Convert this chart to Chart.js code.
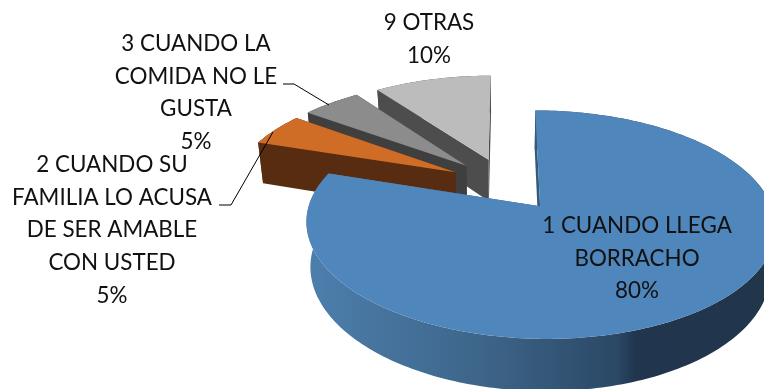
<!DOCTYPE html>
<html>
<head>
<meta charset="utf-8">
<title>Pie</title>
<script src="https://cdn.jsdelivr.net/npm/chart.js@4/dist/chart.umd.min.js"></script>
<style>
  html, body { margin: 0; padding: 0; background: #fff; }
  #wrap { width: 764px; height: 389px; overflow: hidden; }
</style>
</head>
<body>
<div id="wrap"><canvas id="pie" width="764" height="389"></canvas></div>
<script>
const categories = [
  ["1 CUANDO LLEGA", "BORRACHO"],
  ["2 CUANDO SU", "FAMILIA LO ACUSA", "DE SER AMABLE", "CON USTED"],
  ["3 CUANDO LA", "COMIDA NO LE", "GUSTA"],
  ["9 OTRAS"],
];
const values = [80, 5, 5, 10];
const topColors = ["#4f86bb", "#cf6d27", "#8c8c8c", "#bcbcbc"];
const wallColors = [null, "#572c10", "#3f3f3f", "#4d4d4d"];
const explode = [57, 57, 57, 57];

// label anchors: centre x, first line y
const labelPos = [[637, 226], [112, 165], [196, 44], [429, 23]];
const LINE_H = 32.6;
const leaders = [
  null,
  [[219, 205], [231, 205], [273, 132]],
  [[283, 84], [294, 84], [329, 105]],
  null,
];

// fake 3D: tilted plane with a bit of perspective, fitted to the picture
const R0 = 224, TILT = 0.465, PERSP = 0.0007, DEPTH = 43, SHRINK = 0.02;

function project(cx, cy, dx, dy, drop) {
  const p = 1 / (1 - PERSP * dy);
  const k = 1 - SHRINK * drop;
  return [cx + dx * p * k, cy + TILT * dy * p * k + DEPTH * drop * Math.pow(p, 1.2)];
}

function tracePoly(ctx, pts) {
  ctx.beginPath();
  pts.forEach((q, i) => (i ? ctx.lineTo(q[0], q[1]) : ctx.moveTo(q[0], q[1])));
  ctx.closePath();
}

function drawSlice(ctx, el, idx) {
  const { x, y, startAngle, endAngle } = el.getProps(["x", "y", "startAngle", "endAngle"]);
  const mid = (startAngle + endAngle) / 2;
  const ox = Math.cos(mid) * el.options.offset;
  const oy = Math.sin(mid) * el.options.offset;
  const steps = Math.ceil((endAngle - startAngle) / 0.02);
  const rim = (drop) => {
    const out = [];
    for (let i = 0; i <= steps; i++) {
      const a = startAngle + ((endAngle - startAngle) * i) / steps;
      out.push(project(x, y, ox + Math.cos(a) * R0, oy + Math.sin(a) * R0, drop));
    }
    return out;
  };
  const apexTop = project(x, y, ox, oy, 0);
  const apexBot = project(x, y, ox, oy, 1);
  const top = rim(0);
  const bot = rim(1);

  let wall = wallColors[idx];
  if (!wall) {
    wall = ctx.createLinearGradient(304, 0, 764, 0);
    wall.addColorStop(0, "#4d7fae");
    wall.addColorStop(0.4, "#3d6488");
    wall.addColorStop(0.68, "#2b4866");
    wall.addColorStop(0.72, "#21364e");
    wall.addColorStop(1, "#21364b");
  }
  ctx.fillStyle = wall;
  tracePoly(ctx, [apexTop, top[0], bot[0], apexBot]);
  ctx.fill();
  tracePoly(ctx, [apexTop, top[steps], bot[steps], apexBot]);
  ctx.fill();
  tracePoly(ctx, top.concat(bot.slice().reverse()));
  ctx.fill();

  ctx.fillStyle = el.options.backgroundColor;
  tracePoly(ctx, [apexTop].concat(top));
  ctx.fill();
}

const pie3d = {
  id: "pie3d",
  beforeDatasetDraw(chart) {
    const ctx = chart.ctx;
    const arcs = chart.getDatasetMeta(0).data;
    ctx.save();
    for (let i = arcs.length - 1; i >= 0; i--) drawSlice(ctx, arcs[i], i);
    ctx.restore();
    return false;
  },
  afterDraw(chart) {
    const ctx = chart.ctx;
    ctx.save();
    ctx.strokeStyle = "#000";
    ctx.lineWidth = 1;
    leaders.forEach((l) => {
      if (!l) return;
      ctx.beginPath();
      l.forEach((q, i) => (i ? ctx.lineTo(q[0], q[1]) : ctx.moveTo(q[0], q[1])));
      ctx.stroke();
    });
    ctx.fillStyle = "#111";
    ctx.font = "22.4px Lato";
    ctx.textAlign = "center";
    ctx.textBaseline = "middle";
    chart.data.labels.forEach((lines, i) => {
      const all = lines.concat(values[i] + "%");
      all.forEach((t, j) => ctx.fillText(t, labelPos[i][0], labelPos[i][1] + j * LINE_H));
    });
    ctx.restore();
  },
};

new Chart(document.getElementById("pie"), {
  type: "pie",
  data: {
    labels: categories,
    datasets: [{
      data: values,
      backgroundColor: topColors,
      offset: explode,
      borderWidth: 0,
    }],
  },
  options: {
    responsive: false,
    animation: false,
    layout: { padding: { left: 247, bottom: 21 } },
    plugins: { legend: { display: false }, tooltip: { enabled: false } },
  },
  plugins: [pie3d],
});
</script>
</body>
</html>
